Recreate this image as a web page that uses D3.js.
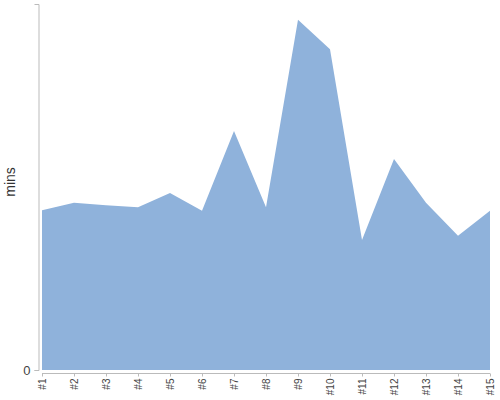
<!DOCTYPE html>
<html>
<head>
<meta charset="utf-8">
<script src="https://cdn.jsdelivr.net/npm/d3@7"></script>
<style>
  body { margin: 0; background: #fff; }
  text { font-family: "Liberation Sans", Arial, sans-serif; }
  .axis path, .axis line { stroke: #bbb; }
  .axis text { fill: #444; }
</style>
</head>
<body>
<svg id="chart" width="500" height="400"></svg>
<script>
var chartWidth = 500;
var chartHeight = 400;

// data
var labels = ["#1","#2","#3","#4","#5","#6","#7","#8","#9","#10","#11","#12","#13","#14","#15"];
var mins = [26.2, 27.4, 27.0, 26.7, 29.0, 26.1, 39.2, 26.7, 57.4, 52.6, 21.3, 34.6, 27.4, 22.0, 26.1];
var yMax = 60;

var svg = d3.select("#chart");

var x = d3.scalePoint()
    .domain(labels)
    .range([42, 490]);

var y = d3.scaleLinear()
    .domain([0, yMax])
    .range([370, 4]);

var area = d3.area()
    .x(function(d, i){ return x(labels[i]); })
    .y0(y(0))
    .y1(function(d){ return y(d); });

svg.append("path")
    .datum(mins)
    .attr("fill", "#8fb2db")
    .attr("d", area);

// y axis: only zero tick
var yAxisGroup = svg.append("g")
    .attr("class", "axis")
    .attr("transform", "translate(38.5,0)")
    .call(d3.axisLeft(y).tickValues([0]).tickSizeOuter(0).tickSize(4));
yAxisGroup.selectAll("text")
    .attr("font-size", "13px")
    .attr("x", -8);

// x axis
var xAxisGroup = svg.append("g")
    .attr("class", "axis")
    .attr("transform", "translate(0,373.5)")
    .call(d3.axisBottom(x).tickSizeOuter(0).tickSize(3));
xAxisGroup.select(".domain").attr("d", "M42,0H490");
xAxisGroup.selectAll("text")
    .attr("font-size", "10px")
    .style("text-anchor", "end")
    .attr("dy", "0.35em")
    .attr("transform", "rotate(-90)")
    .attr("x", -5)
    .attr("y", 0);

svg.append("text")
    .attr("text-anchor", "middle")
    .attr("transform", "translate(15,182) rotate(-90)")
    .attr("font-size", "14px")
    .attr("fill", "#333")
    .text("mins");
</script>
</body>
</html>
